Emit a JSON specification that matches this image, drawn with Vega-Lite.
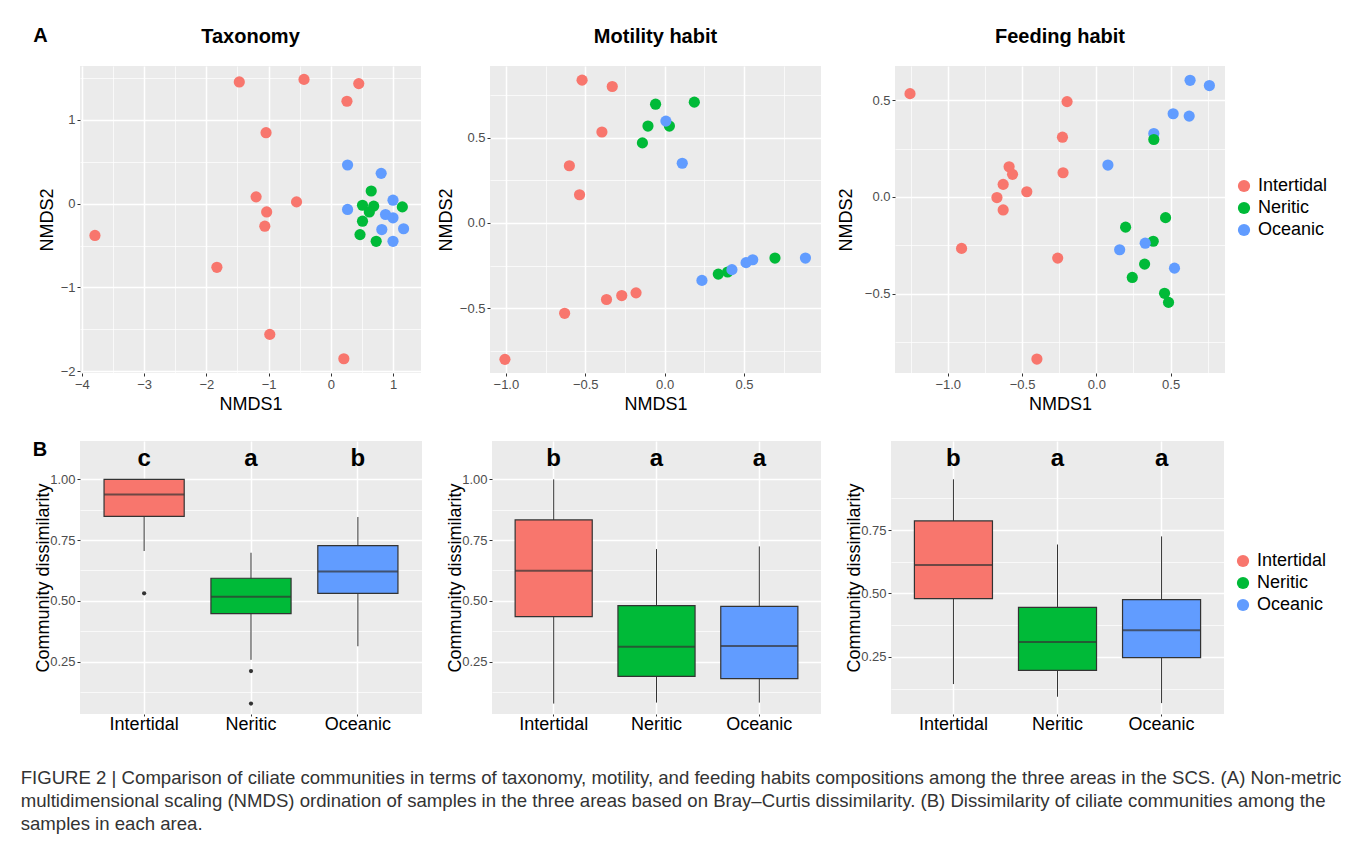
{
  "$schema": "https://vega.github.io/schema/vega-lite/v6.json",
  "background": "white",
  "padding": {"left": 20, "right": 10, "top": 26, "bottom": 8},
  "config": {
    "font": "Liberation Sans",
    "view": {"fill": "#EBEBEB", "stroke": null},
    "axis": {"domain": false, "grid": true, "gridColor": "#FFFFFF", "tickColor": "#333333", "tickSize": 3, "tickCount": 100, "labelColor": "#4D4D4D", "labelFontSize": 13, "titleFontSize": 18, "titleFontWeight": "normal", "titleColor": "#000000", "labelPadding": 2, "titlePadding": 4, "labelFlush": false, "labelOverlap": false},
    "title": {"fontSize": 20, "fontWeight": "bold", "color": "#000000", "offset": 19},
    "legend": {"title": null, "symbolType": "circle", "symbolSize": 150, "symbolStrokeWidth": 0, "labelFontSize": 18, "labelColor": "#000000", "rowPadding": 4, "labelOffset": 5}
  },
  "datasets": {
    "tax": [
      {"area": "Intertidal", "NMDS1": -1.47, "NMDS2": 1.45},
      {"area": "Intertidal", "NMDS1": -0.43, "NMDS2": 1.48},
      {"area": "Intertidal", "NMDS1": 0.45, "NMDS2": 1.43},
      {"area": "Intertidal", "NMDS1": 0.26, "NMDS2": 1.22},
      {"area": "Intertidal", "NMDS1": -1.04, "NMDS2": 0.845},
      {"area": "Intertidal", "NMDS1": -1.2, "NMDS2": 0.08},
      {"area": "Intertidal", "NMDS1": -0.55, "NMDS2": 0.02},
      {"area": "Intertidal", "NMDS1": -1.03, "NMDS2": -0.1},
      {"area": "Intertidal", "NMDS1": -1.06, "NMDS2": -0.27},
      {"area": "Intertidal", "NMDS1": -3.79, "NMDS2": -0.38},
      {"area": "Intertidal", "NMDS1": -1.83, "NMDS2": -0.76},
      {"area": "Intertidal", "NMDS1": -0.98, "NMDS2": -1.56},
      {"area": "Intertidal", "NMDS1": 0.21, "NMDS2": -1.85},
      {"area": "Oceanic", "NMDS1": 0.27, "NMDS2": 0.46},
      {"area": "Oceanic", "NMDS1": 0.81, "NMDS2": 0.36},
      {"area": "Oceanic", "NMDS1": 1.0, "NMDS2": 0.04},
      {"area": "Oceanic", "NMDS1": 0.27, "NMDS2": -0.07},
      {"area": "Oceanic", "NMDS1": 0.88, "NMDS2": -0.13},
      {"area": "Oceanic", "NMDS1": 1.0, "NMDS2": -0.17},
      {"area": "Oceanic", "NMDS1": 0.82, "NMDS2": -0.31},
      {"area": "Oceanic", "NMDS1": 1.17, "NMDS2": -0.3},
      {"area": "Oceanic", "NMDS1": 1.0, "NMDS2": -0.45},
      {"area": "Neritic", "NMDS1": 0.65, "NMDS2": 0.15},
      {"area": "Neritic", "NMDS1": 0.51, "NMDS2": -0.02},
      {"area": "Neritic", "NMDS1": 0.69, "NMDS2": -0.03},
      {"area": "Neritic", "NMDS1": 0.62, "NMDS2": -0.1},
      {"area": "Neritic", "NMDS1": 1.15, "NMDS2": -0.04},
      {"area": "Neritic", "NMDS1": 0.51, "NMDS2": -0.21},
      {"area": "Neritic", "NMDS1": 0.47, "NMDS2": -0.37},
      {"area": "Neritic", "NMDS1": 0.73, "NMDS2": -0.45}
    ],
    "mot": [
      {"area": "Intertidal", "NMDS1": -0.52, "NMDS2": 0.837},
      {"area": "Intertidal", "NMDS1": -0.33, "NMDS2": 0.8},
      {"area": "Intertidal", "NMDS1": -0.395, "NMDS2": 0.533},
      {"area": "Intertidal", "NMDS1": -0.6, "NMDS2": 0.335},
      {"area": "Intertidal", "NMDS1": -0.536, "NMDS2": 0.165},
      {"area": "Intertidal", "NMDS1": -0.18, "NMDS2": -0.41},
      {"area": "Intertidal", "NMDS1": -0.27, "NMDS2": -0.426},
      {"area": "Intertidal", "NMDS1": -0.366, "NMDS2": -0.449},
      {"area": "Intertidal", "NMDS1": -0.63, "NMDS2": -0.53},
      {"area": "Intertidal", "NMDS1": -1.006, "NMDS2": -0.8},
      {"area": "Neritic", "NMDS1": -0.057, "NMDS2": 0.696},
      {"area": "Neritic", "NMDS1": 0.187, "NMDS2": 0.708},
      {"area": "Neritic", "NMDS1": -0.105, "NMDS2": 0.568},
      {"area": "Neritic", "NMDS1": 0.03, "NMDS2": 0.568},
      {"area": "Neritic", "NMDS1": -0.14, "NMDS2": 0.469},
      {"area": "Neritic", "NMDS1": 0.695, "NMDS2": -0.206},
      {"area": "Neritic", "NMDS1": 0.338, "NMDS2": -0.3},
      {"area": "Neritic", "NMDS1": 0.397, "NMDS2": -0.288},
      {"area": "Oceanic", "NMDS1": 0.008, "NMDS2": 0.597},
      {"area": "Oceanic", "NMDS1": 0.111, "NMDS2": 0.35},
      {"area": "Oceanic", "NMDS1": 0.235, "NMDS2": -0.337},
      {"area": "Oceanic", "NMDS1": 0.424, "NMDS2": -0.274},
      {"area": "Oceanic", "NMDS1": 0.513, "NMDS2": -0.233},
      {"area": "Oceanic", "NMDS1": 0.555, "NMDS2": -0.216},
      {"area": "Oceanic", "NMDS1": 0.887, "NMDS2": -0.206}
    ],
    "feed": [
      {"area": "Intertidal", "NMDS1": -1.254, "NMDS2": 0.534},
      {"area": "Intertidal", "NMDS1": -0.197, "NMDS2": 0.493},
      {"area": "Intertidal", "NMDS1": -0.228, "NMDS2": 0.309},
      {"area": "Intertidal", "NMDS1": -0.224, "NMDS2": 0.125},
      {"area": "Intertidal", "NMDS1": -0.587, "NMDS2": 0.156},
      {"area": "Intertidal", "NMDS1": -0.564, "NMDS2": 0.117},
      {"area": "Intertidal", "NMDS1": -0.627, "NMDS2": 0.065},
      {"area": "Intertidal", "NMDS1": -0.468, "NMDS2": 0.027},
      {"area": "Intertidal", "NMDS1": -0.669, "NMDS2": -0.003},
      {"area": "Intertidal", "NMDS1": -0.627, "NMDS2": -0.067},
      {"area": "Intertidal", "NMDS1": -0.907, "NMDS2": -0.266},
      {"area": "Intertidal", "NMDS1": -0.26, "NMDS2": -0.316},
      {"area": "Intertidal", "NMDS1": -0.4, "NMDS2": -0.838},
      {"area": "Oceanic", "NMDS1": 0.631, "NMDS2": 0.603},
      {"area": "Oceanic", "NMDS1": 0.761, "NMDS2": 0.576},
      {"area": "Oceanic", "NMDS1": 0.517, "NMDS2": 0.43},
      {"area": "Oceanic", "NMDS1": 0.625, "NMDS2": 0.418},
      {"area": "Oceanic", "NMDS1": 0.387, "NMDS2": 0.328},
      {"area": "Oceanic", "NMDS1": 0.078, "NMDS2": 0.165},
      {"area": "Neritic", "NMDS1": 0.387, "NMDS2": 0.297},
      {"area": "Neritic", "NMDS1": 0.466, "NMDS2": -0.107},
      {"area": "Neritic", "NMDS1": 0.197, "NMDS2": -0.156},
      {"area": "Neritic", "NMDS1": 0.383, "NMDS2": -0.229},
      {"area": "Neritic", "NMDS1": 0.325, "NMDS2": -0.347},
      {"area": "Neritic", "NMDS1": 0.242, "NMDS2": -0.416},
      {"area": "Neritic", "NMDS1": 0.459, "NMDS2": -0.498},
      {"area": "Neritic", "NMDS1": 0.486, "NMDS2": -0.545},
      {"area": "Oceanic", "NMDS1": 0.157, "NMDS2": -0.273},
      {"area": "Oceanic", "NMDS1": 0.329, "NMDS2": -0.239},
      {"area": "Oceanic", "NMDS1": 0.526, "NMDS2": -0.368}
    ],
    "boxTax": [
      {"area": "Intertidal", "lower": 0.705, "q1": 0.848, "median": 0.938, "q3": 1.0, "upper": 1.0, "letter": "c"},
      {"area": "Neritic", "lower": 0.257, "q1": 0.447, "median": 0.517, "q3": 0.593, "upper": 0.698, "letter": "a"},
      {"area": "Oceanic", "lower": 0.313, "q1": 0.531, "median": 0.621, "q3": 0.727, "upper": 0.845, "letter": "b"}
    ],
    "outTax": [
      {"area": "Intertidal", "value": 0.531},
      {"area": "Neritic", "value": 0.211},
      {"area": "Neritic", "value": 0.077}
    ],
    "boxMot": [
      {"area": "Intertidal", "lower": 0.077, "q1": 0.435, "median": 0.624, "q3": 0.833, "upper": 1.0, "letter": "b"},
      {"area": "Neritic", "lower": 0.081, "q1": 0.189, "median": 0.311, "q3": 0.48, "upper": 0.713, "letter": "a"},
      {"area": "Oceanic", "lower": 0.081, "q1": 0.18, "median": 0.314, "q3": 0.477, "upper": 0.724, "letter": "a"}
    ],
    "boxFeed": [
      {"area": "Intertidal", "lower": 0.143, "q1": 0.48, "median": 0.612, "q3": 0.786, "upper": 0.95, "letter": "b"},
      {"area": "Neritic", "lower": 0.093, "q1": 0.197, "median": 0.309, "q3": 0.445, "upper": 0.693, "letter": "a"},
      {"area": "Oceanic", "lower": 0.068, "q1": 0.247, "median": 0.355, "q3": 0.476, "upper": 0.725, "letter": "a"}
    ]
  },
  "title": {
    "text": [
      "FIGURE 2 | Comparison of ciliate communities in terms of taxonomy, motility, and feeding habits compositions among the three areas in the SCS. (A) Non-metric",
      "multidimensional scaling (NMDS) ordination of samples in the three areas based on Bray–Curtis dissimilarity. (B) Dissimilarity of ciliate communities among the",
      "samples in each area."
    ],
    "orient": "bottom",
    "anchor": "start",
    "font": "Liberation Sans",
    "fontSize": 18.6,
    "fontWeight": "normal",
    "color": "#333333",
    "lineHeight": 23,
    "offset": 36,
    "dx": -12
  },
  "spacing": 27,
  "resolve": {"scale": {"color": "independent"}, "legend": {"color": "independent"}},
  "vconcat": [
    {
      "title": {"text": "A", "anchor": "start", "fontSize": 20, "dy": 23, "dx": -5, "offset": 4},
      "spacing": 16,
      "resolve": {"scale": {"color": "independent"}, "legend": {"color": "independent"}},
      "hconcat": [
        {
          "width": 341, "height": 307,
          "title": {"text": "Taxonomy"},
          "data": {"name": "tax"},
          "mark": {"type": "circle", "size": 125, "opacity": 1},
          "encoding": {
            "x": {"field": "NMDS1", "type": "quantitative",
              "scale": {"domain": [-4.03, 1.45], "nice": false, "zero": false},
              "axis": {"title": "NMDS1", "values": [-4, -3.5, -3, -2.5, -2, -1.5, -1, -0.5, 0, 0.5, 1],
                "labelExpr": "datum.value % 1 !== 0 ? '' : format(datum.value, 'd')",
                "tickOpacity": {"condition": {"test": "datum.value % 1 !== 0", "value": 0}, "value": 1},
                "gridWidth": {"condition": {"test": "datum.value % 1 !== 0", "value": 0.7}, "value": 1.5}}},
            "y": {"field": "NMDS2", "type": "quantitative",
              "scale": {"domain": [-2.02, 1.64], "nice": false, "zero": false},
              "axis": {"title": "NMDS2", "values": [-2, -1.5, -1, -0.5, 0, 0.5, 1, 1.5],
                "labelExpr": "datum.value % 1 !== 0 ? '' : format(datum.value, 'd')",
                "tickOpacity": {"condition": {"test": "datum.value % 1 !== 0", "value": 0}, "value": 1},
                "gridWidth": {"condition": {"test": "datum.value % 1 !== 0", "value": 0.7}, "value": 1.5}}},
            "color": {"field": "area", "type": "nominal",
              "scale": {"domain": ["Intertidal", "Neritic", "Oceanic"], "range": ["#F8766D", "#00BA38", "#619CFF"]},
              "legend": null}
          }
        },
        {
          "width": 331, "height": 307,
          "title": {"text": "Motility habit"},
          "data": {"name": "mot"},
          "mark": {"type": "circle", "size": 125, "opacity": 1},
          "encoding": {
            "x": {"field": "NMDS1", "type": "quantitative",
              "scale": {"domain": [-1.1, 0.985], "nice": false, "zero": false},
              "axis": {"title": "NMDS1", "values": [-1, -0.75, -0.5, -0.25, 0, 0.25, 0.5, 0.75],
                "labelExpr": "abs(datum.value * 2 - round(datum.value * 2)) > 0.01 ? '' : format(datum.value, '.1f')",
                "tickOpacity": {"condition": {"test": "abs(datum.value * 2 - round(datum.value * 2)) > 0.01", "value": 0}, "value": 1},
                "gridWidth": {"condition": {"test": "abs(datum.value * 2 - round(datum.value * 2)) > 0.01", "value": 0.7}, "value": 1.5}}},
            "y": {"field": "NMDS2", "type": "quantitative",
              "scale": {"domain": [-0.88, 0.92], "nice": false, "zero": false},
              "axis": {"title": "NMDS2", "values": [-0.75, -0.5, -0.25, 0, 0.25, 0.5, 0.75],
                "labelExpr": "abs(datum.value * 2 - round(datum.value * 2)) > 0.01 ? '' : format(datum.value, '.1f')",
                "tickOpacity": {"condition": {"test": "abs(datum.value * 2 - round(datum.value * 2)) > 0.01", "value": 0}, "value": 1},
                "gridWidth": {"condition": {"test": "abs(datum.value * 2 - round(datum.value * 2)) > 0.01", "value": 0.7}, "value": 1.5}}},
            "color": {"field": "area", "type": "nominal",
              "scale": {"domain": ["Intertidal", "Neritic", "Oceanic"], "range": ["#F8766D", "#00BA38", "#619CFF"]},
              "legend": null}
          }
        },
        {
          "width": 330, "height": 307,
          "title": {"text": "Feeding habit"},
          "data": {"name": "feed"},
          "mark": {"type": "circle", "size": 125, "opacity": 1},
          "encoding": {
            "x": {"field": "NMDS1", "type": "quantitative",
              "scale": {"domain": [-1.355, 0.866], "nice": false, "zero": false},
              "axis": {"title": "NMDS1", "values": [-1.25, -1, -0.75, -0.5, -0.25, 0, 0.25, 0.5, 0.75],
                "labelExpr": "abs(datum.value * 2 - round(datum.value * 2)) > 0.01 ? '' : format(datum.value, '.1f')",
                "tickOpacity": {"condition": {"test": "abs(datum.value * 2 - round(datum.value * 2)) > 0.01", "value": 0}, "value": 1},
                "gridWidth": {"condition": {"test": "abs(datum.value * 2 - round(datum.value * 2)) > 0.01", "value": 0.7}, "value": 1.5}}},
            "y": {"field": "NMDS2", "type": "quantitative",
              "scale": {"domain": [-0.91, 0.677], "nice": false, "zero": false},
              "axis": {"title": "NMDS2", "titlePadding": 9, "values": [-0.75, -0.5, -0.25, 0, 0.25, 0.5],
                "labelExpr": "abs(datum.value * 2 - round(datum.value * 2)) > 0.01 ? '' : format(datum.value, '.1f')",
                "tickOpacity": {"condition": {"test": "abs(datum.value * 2 - round(datum.value * 2)) > 0.01", "value": 0}, "value": 1},
                "gridWidth": {"condition": {"test": "abs(datum.value * 2 - round(datum.value * 2)) > 0.01", "value": 0.7}, "value": 1.5}}},
            "color": {"field": "area", "type": "nominal",
              "scale": {"domain": ["Intertidal", "Neritic", "Oceanic"], "range": ["#F8766D", "#00BA38", "#619CFF"]},
              "legend": {"orient": "none", "legendX": 340, "legendY": 111, "title": null, "symbolType": "circle"}}
          }
        }
      ]
    },
    {
      "title": {"text": "B", "anchor": "start", "fontSize": 20, "dy": 23, "dx": -2, "offset": 4},
      "spacing": 24,
      "resolve": {"scale": {"color": "independent"}, "legend": {"color": "independent"}},
      "hconcat": [
        {
          "width": 342, "height": 273,
          "encoding": {
            "x": {"field": "area", "type": "nominal", "sort": ["Intertidal", "Neritic", "Oceanic"],
              "scale": {"type": "band", "paddingInner": 0, "paddingOuter": 0.1},
              "axis": {"title": null, "labelAngle": 0, "labelFontSize": 18, "labelColor": "#000000", "tickSize": 2, "labelPadding": -1, "bandPosition": 0.5, "gridWidth": 1.5}}
          },
          "layer": [
            {
              "data": {"name": "boxTax"},
              "mark": {"type": "rule", "color": "#333333", "strokeWidth": 1},
              "encoding": {
                "y": {"field": "lower", "type": "quantitative",
                  "scale": {"domain": [0.034, 1.158], "nice": false, "zero": false},
                  "axis": {"title": "Community dissimilarity", "titlePadding": -3, "values": [0.125, 0.25, 0.375, 0.5, 0.625, 0.75, 0.875, 1.0],
                    "labelExpr": "abs(datum.value * 4 - round(datum.value * 4)) > 0.01 ? '' : format(datum.value, '.2f')",
                    "tickOpacity": {"condition": {"test": "abs(datum.value * 4 - round(datum.value * 4)) > 0.01", "value": 0}, "value": 1},
                    "gridWidth": {"condition": {"test": "abs(datum.value * 4 - round(datum.value * 4)) > 0.01", "value": 0.7}, "value": 1.5}}},
                "y2": {"field": "upper"}
              }
            },
            {
              "data": {"name": "boxTax"},
              "mark": {"type": "bar", "width": {"band": 0.75}, "stroke": "#333333", "strokeWidth": 1.2},
              "encoding": {
                "y": {"field": "q1", "type": "quantitative"},
                "y2": {"field": "q3"},
                "color": {"field": "area", "type": "nominal",
                  "scale": {"domain": ["Intertidal", "Neritic", "Oceanic"], "range": ["#F8766D", "#00BA38", "#619CFF"]},
                  "legend": null}
              }
            },
            {
              "data": {"name": "boxTax"},
              "mark": {"type": "tick", "size": 80, "thickness": 2, "color": "#333333", "orient": "horizontal"},
              "encoding": {"y": {"field": "median", "type": "quantitative"}}
            },
            {
              "data": {"name": "outTax"},
              "mark": {"type": "circle", "size": 18, "color": "#333333", "opacity": 1},
              "encoding": {"y": {"field": "value", "type": "quantitative"}}
            },
            {
              "data": {"name": "boxTax"},
              "mark": {"type": "text", "fontSize": 24, "fontWeight": "bold", "color": "#000000", "baseline": "middle"},
              "encoding": {"y": {"datum": 1.082, "type": "quantitative"}, "text": {"field": "letter"}}
            }
          ]
        },
        {
          "width": 329, "height": 273,
          "data": {"name": "boxMot"},
          "encoding": {
            "x": {"field": "area", "type": "nominal", "sort": ["Intertidal", "Neritic", "Oceanic"],
              "scale": {"type": "band", "paddingInner": 0, "paddingOuter": 0.1},
              "axis": {"title": null, "labelAngle": 0, "labelFontSize": 18, "labelColor": "#000000", "tickSize": 2, "labelPadding": -1, "bandPosition": 0.5, "gridWidth": 1.5}}
          },
          "layer": [
            {
              "mark": {"type": "rule", "color": "#333333", "strokeWidth": 1},
              "encoding": {
                "y": {"field": "lower", "type": "quantitative",
                  "scale": {"domain": [0.034, 1.158], "nice": false, "zero": false},
                  "axis": {"title": "Community dissimilarity", "titlePadding": -3, "values": [0.125, 0.25, 0.375, 0.5, 0.625, 0.75, 0.875, 1.0],
                    "labelExpr": "abs(datum.value * 4 - round(datum.value * 4)) > 0.01 ? '' : format(datum.value, '.2f')",
                    "tickOpacity": {"condition": {"test": "abs(datum.value * 4 - round(datum.value * 4)) > 0.01", "value": 0}, "value": 1},
                    "gridWidth": {"condition": {"test": "abs(datum.value * 4 - round(datum.value * 4)) > 0.01", "value": 0.7}, "value": 1.5}}},
                "y2": {"field": "upper"}
              }
            },
            {
              "mark": {"type": "bar", "width": {"band": 0.75}, "stroke": "#333333", "strokeWidth": 1.2},
              "encoding": {
                "y": {"field": "q1", "type": "quantitative"},
                "y2": {"field": "q3"},
                "color": {"field": "area", "type": "nominal",
                  "scale": {"domain": ["Intertidal", "Neritic", "Oceanic"], "range": ["#F8766D", "#00BA38", "#619CFF"]},
                  "legend": null}
              }
            },
            {
              "mark": {"type": "tick", "size": 77, "thickness": 2, "color": "#333333", "orient": "horizontal"},
              "encoding": {"y": {"field": "median", "type": "quantitative"}}
            },
            {
              "mark": {"type": "text", "fontSize": 24, "fontWeight": "bold", "color": "#000000", "baseline": "middle"},
              "encoding": {"y": {"datum": 1.082, "type": "quantitative"}, "text": {"field": "letter"}}
            }
          ]
        },
        {
          "width": 333, "height": 273,
          "data": {"name": "boxFeed"},
          "encoding": {
            "x": {"field": "area", "type": "nominal", "sort": ["Intertidal", "Neritic", "Oceanic"],
              "scale": {"type": "band", "paddingInner": 0, "paddingOuter": 0.1},
              "axis": {"title": null, "labelAngle": 0, "labelFontSize": 18, "labelColor": "#000000", "tickSize": 2, "labelPadding": -1, "bandPosition": 0.5, "gridWidth": 1.5}}
          },
          "layer": [
            {
              "mark": {"type": "rule", "color": "#333333", "strokeWidth": 1},
              "encoding": {
                "y": {"field": "lower", "type": "quantitative",
                  "scale": {"domain": [0.025, 1.101], "nice": false, "zero": false},
                  "axis": {"title": "Community dissimilarity", "titlePadding": -3, "values": [0.125, 0.25, 0.375, 0.5, 0.625, 0.75, 0.875],
                    "labelExpr": "abs(datum.value * 4 - round(datum.value * 4)) > 0.01 ? '' : format(datum.value, '.2f')",
                    "tickOpacity": {"condition": {"test": "abs(datum.value * 4 - round(datum.value * 4)) > 0.01", "value": 0}, "value": 1},
                    "gridWidth": {"condition": {"test": "abs(datum.value * 4 - round(datum.value * 4)) > 0.01", "value": 0.7}, "value": 1.5}}},
                "y2": {"field": "upper"}
              }
            },
            {
              "mark": {"type": "bar", "width": {"band": 0.75}, "stroke": "#333333", "strokeWidth": 1.2},
              "encoding": {
                "y": {"field": "q1", "type": "quantitative"},
                "y2": {"field": "q3"},
                "color": {"field": "area", "type": "nominal",
                  "scale": {"domain": ["Intertidal", "Neritic", "Oceanic"], "range": ["#F8766D", "#00BA38", "#619CFF"]},
                  "legend": {"orient": "none", "legendX": 343, "legendY": 111, "title": null, "symbolType": "circle"}}
              }
            },
            {
              "mark": {"type": "tick", "size": 78, "thickness": 2, "color": "#333333", "orient": "horizontal"},
              "encoding": {"y": {"field": "median", "type": "quantitative"}}
            },
            {
              "mark": {"type": "text", "fontSize": 24, "fontWeight": "bold", "color": "#000000", "baseline": "middle"},
              "encoding": {"y": {"datum": 1.029, "type": "quantitative"}, "text": {"field": "letter"}}
            }
          ]
        }
      ]
    }
  ]
}
